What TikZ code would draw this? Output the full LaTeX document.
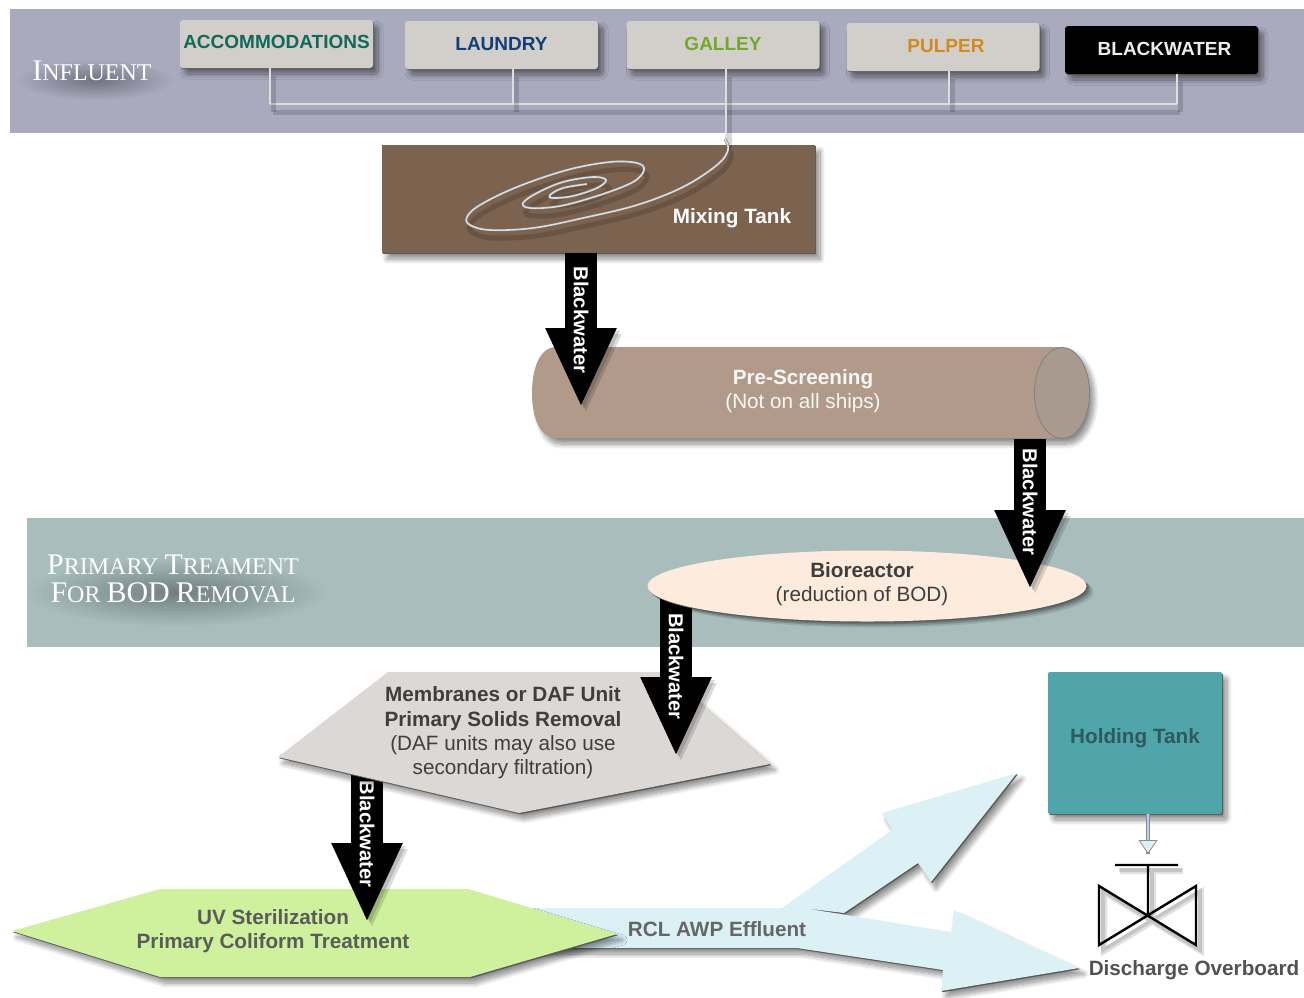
\documentclass[tikz,border=0pt]{standalone}
\usepackage{fontspec}
\setsansfont{Liberation Sans}
\newfontfamily\bandfont{Liberation Serif}
\usetikzlibrary{arrows.meta,shapes.geometric,shadows,shadows.blur,fadings}
\definecolor{influentband}{HTML}{AAAABF}
\definecolor{primaryband}{HTML}{A9BDBD}
\definecolor{sourcegrey}{HTML}{D2CFCB}
\definecolor{tankbrown}{HTML}{7C6350}
\definecolor{screenbrown}{HTML}{B19A8A}
\definecolor{screenend}{HTML}{A89A8E}
\definecolor{bioskin}{HTML}{FDEBDD}
\definecolor{membranegrey}{HTML}{DBD8D5}
\definecolor{uvgreen}{HTML}{CFF09D}
\definecolor{holdteal}{HTML}{4FA5A9}
\definecolor{effluentblue}{HTML}{DCF1F6}
\definecolor{inktext}{HTML}{3E3E3E}
\definecolor{accomtext}{HTML}{10695A}
\definecolor{laundrytext}{HTML}{123F7A}
\definecolor{galleytext}{HTML}{74A82A}
\definecolor{pulpertext}{HTML}{D08A1E}
\definecolor{holdtext}{HTML}{2E5A5C}
\newcommand{\bandcap}[1]{{\fontsize{15}{15}\selectfont #1}}
\tikzfading[name=softspot,inner color=transparent!40,outer color=transparent!100]
\tikzset{
  softshade/.style={blur shadow={shadow xshift=2.5pt,shadow yshift=-3pt,shadow blur steps=12,shadow blur radius=2.5pt,shadow opacity=45}},
  edgeshade/.style={general shadow={shadow xshift=.5pt,shadow yshift=-.6pt,fill=black!65}},
  softring/.style={general shadow={shadow xshift=3.5pt,shadow yshift=-3pt,fill=black,opacity=.1},general shadow={shadow xshift=2.5pt,shadow yshift=-2.2pt,fill=black,opacity=.14},general shadow={shadow xshift=1.5pt,shadow yshift=-1.4pt,fill=black,opacity=.2}},
  sourcebox/.style={rectangle,rounded corners=1.5pt,minimum width=96.5pt,minimum height=24pt,inner sep=0pt,text depth=1pt,fill=sourcegrey,softshade,edgeshade,font=\sffamily\bfseries\fontsize{9.5}{11}\selectfont},
  pipe/.style={preaction={draw=black,opacity=.15,line width=2.5pt,transform canvas={shift={(1.5pt,-4pt)}}},draw=black!55,double=black!13,double distance=.8pt,line width=.3pt},
  bwflow/.style={preaction={draw=black,opacity=.14,transform canvas={shift={(2.5pt,-3pt)}}},preaction={draw=black,opacity=.14,transform canvas={shift={(1.5pt,-1.5pt)}}},draw=black,line width=16pt,-{Triangle[width=32.5pt,length=40pt]}},
  bwlabel/.style={rotate=-90,inner sep=0pt,text=white,font=\sffamily\bfseries\fontsize{10.1}{12}\selectfont},
  plainlabel/.style={align=center,inner sep=0pt,font=\sffamily\fontsize{10.35}{12.2}\selectfont},
  boldlabel/.style={plainlabel,font=\sffamily\bfseries\fontsize{10.35}{12.2}\selectfont},
  bandlabel/.style={align=center,inner sep=0pt,text=white,font=\bandfont\fontsize{12}{14}\selectfont},
  bandglow/.style={fill=black,opacity=.55,path fading=softspot},
  effluentflow/.style={fill=effluentblue,softshade,edgeshade},
}
\begin{document}
\begin{tikzpicture}[x=.5pt,y=-.5pt]
  \useasboundingbox (0,0) rectangle (1304,997);
  % bands
  \fill[influentband] (10,9) rectangle (1304,133);
  \fill[primaryband] (27,518) rectangle (1304,647);
  \fill[bandglow] (95,80) ellipse (78 and 20);
  \fill[bandglow] (177,592) ellipse (150 and 34);
  \node[bandlabel] (influent) at (92,71) {\bandcap{I}NFLUENT};
  \node[bandlabel] (primary) at (173,579) {\bandcap{P}RIMARY \bandcap{T}REAMENT\\\bandcap{F}OR \bandcap{BOD} \bandcap{R}EMOVAL};
  % influent sources
  \node[sourcebox,text=accomtext] (accom) at (276.5,44) {\raisebox{1pt}{ACCOMMODATIONS}};
  \node[sourcebox,text=laundrytext] (laundry) at (501.5,45) {LAUNDRY};
  \node[sourcebox,text=galleytext] (galley) at (723,45) {GALLEY};
  \node[sourcebox,text=pulpertext] (pulper) at (943,47) {\hspace*{3pt}PULPER};
  \node[sourcebox,fill=black,text=black!7] (blackwater) at (1161.5,50) {\hspace*{3pt}BLACKWATER};
  % tanks
  \node[rectangle,minimum width=216.5pt,minimum height=54pt,fill=tankbrown,softshade,edgeshade] (mixtank) at (598.5,199) {};
  \node[boldlabel,text=white] (mixlabel) at (732,218) {Mixing Tank};
  % collecting pipe and spiral
  \coordinate (busleft) at (270,104);
  \coordinate (busright) at (1177,104);
  \coordinate (spiraltop) at (726,140);
  \draw[pipe] (busleft) -- (busright);
  \foreach \src/\dx in {accom/-3.25,laundry/5.75,pulper/3,blackwater/7.75}
    \draw[pipe] ([xshift=\dx pt]\src.south) -- ([xshift=\dx pt]\src.south |- busleft);
  \draw[pipe] ([xshift=1.5pt]galley.south) -- (spiraltop);
  \draw[pipe] plot[smooth,tension=.6] coordinates {(725,139) (728,150) (717,165) (683,187) (637,205) (583,218) (533,228) (490,230) (470,225) (467,217) (480,205) (517,187) (567,170) (610,162) (637,163) (644,170) (633,182) (600,195) (560,206) (530,208) (523,203) (537,193) (563,182) (593,177) (606,180) (597,188) (573,196) (553,198) (550,195) (563,188) (587,184)};
  % effluent arrows
  \fill[effluentflow] (530,908) -- (782,908) -- (892,830) -- (882,813) -- (1017,773) -- (931,882) -- (918,863) -- (844,913) -- (803,908) -- (951,932) -- (954,910) -- (1079,968) -- (941,991) -- (943,970) -- (797,948) -- (530,948) -- cycle;
  \node[boldlabel,text=black!60] (effluent) at (717,929) {RCL AWP Effluent};
  % uv treatment
  \fill[fill=uvgreen,softshade,edgeshade] (12,931) -- (160,889) -- (468,889) -- (617,934) -- (470,977) -- (160,977) -- cycle;
  \node[boldlabel,text=inktext!85] (uvlabel) at (273,931) {UV Sterilization\\Primary Coliform Treatment};
  % hidden starts of the two lower flows
  \coordinate (membranecore) at (520,745);
  \coordinate (biocore) at (867,586);
  \coordinate (flowa) at (581,408);
  \coordinate (flowb) at (1030,590);
  \coordinate (flowc) at (676,757);
  \coordinate (flowd) at (367,923);
  \draw[bwflow] (membranecore -| flowd) -- node[bwlabel,pos=.5] (bwd) {Blackwater} (flowd);
  % membranes
  \fill[fill=membranegrey,softshade,edgeshade] (278,757) -- (388,672) -- (664,672) -- (770,764) -- (519,813) -- cycle;
  \node[plainlabel,text=inktext] (membranes) at (503,733) {\textbf{Membranes or DAF Unit}\\\textbf{Primary Solids Removal}\\(DAF units may also use\\secondary filtration)};
  \draw[bwflow] (biocore -| flowc) -- node[bwlabel,pos=.47] (bwc) {Blackwater} (flowc);
  % bioreactor
  \node[ellipse,minimum width=219.5pt,minimum height=35.5pt,inner sep=0pt,fill=bioskin,softring,edgeshade] (bioreactor) at (biocore) {};
  \node[plainlabel,text=inktext] (biolabel) at (862,584) {\textbf{Bioreactor}\\(reduction of BOD)};
  % prescreening
  \fill[fill=screenbrown,softshade] (1062,347) -- (556,347) .. controls (540,347) and (532,368) .. (532,393) .. controls (532,418) and (540,438) .. (556,438) -- (1062,438) .. controls (1077,438) and (1089,418) .. (1089,393) .. controls (1089,368) and (1077,347) .. (1062,347) -- cycle;
  \node[ellipse,minimum width=27.5pt,minimum height=45.5pt,inner sep=0pt,fill=screenend,draw=black!50,line width=.4pt] (screencap) at (1062,393) {};
  \node[plainlabel,text=white!92!screenbrown] (screenlabel) at (803,391) {\textbf{Pre-Screening}\\(Not on all ships)};
  \draw[bwflow] (mixtank.south -| flowa) -- node[bwlabel,pos=.43] (bwa) {Blackwater} (flowa);
  \draw[bwflow] (screencap.south -| flowb) -- node[bwlabel,pos=.416] (bwb) {Blackwater} (flowb);
  % holding tank and overboard valve
  \node[rectangle,rounded corners=1pt,minimum width=87pt,minimum height=71pt,fill=holdteal,softshade,edgeshade] (holdtank) at (1135,743) {};
  \node[boldlabel,text=holdtext] (holdlabel) at (1135,738) {Holding Tank};
  \coordinate (valvetop) at (1148,865);
  \coordinate (valvemid) at (1148,915);
  \draw[preaction={draw=black!45,line width=2.4pt,arrows=-},draw=effluentblue!85!blue,line width=1.4pt,-{Triangle[width=9.5pt,length=7pt,fill=effluentblue,color=black!45,line width=.4pt]}] (holdtank.south -| valvetop) -- ([yshift=5.5pt]valvetop);
  \draw[preaction={draw=black,opacity=.12,line width=3pt,transform canvas={shift={(2.5pt,-3pt)}}},preaction={draw=black,opacity=.12,line width=1.8pt,transform canvas={shift={(2pt,-2.5pt)}}},line width=1.2pt,line join=miter] (1115,865) -- (1178,865) (valvetop) -- (valvemid) (1099,886) -- (1099,945) -- (1196,886) -- (1196,945) -- cycle;
  \node[boldlabel,text=black!68] (discharge) at (1194,970) {Discharge Overboard};
\end{tikzpicture}
\end{document}
